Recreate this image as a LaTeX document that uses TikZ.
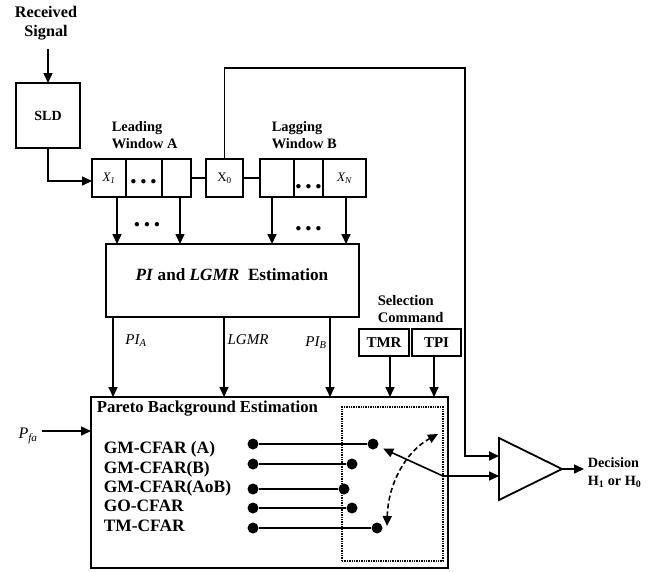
\documentclass[tikz,border=0pt]{standalone}
\usepackage{fontspec}
\setmainfont{Liberation Serif}
\usetikzlibrary{arrows.meta}
\tikzset{
  arr/.style={-{Triangle[length=10pt,width=9pt]}},
  blk/.style={draw, line width=1.8pt, inner sep=0pt, outer sep=0pt, rectangle},
  cell/.style={blk, line width=1.4pt, minimum height=38pt, font=\fontsize{13}{13}\selectfont\itshape},
  bl/.style={inner sep=0pt, font=\fontsize{14.4}{17}\selectfont\bfseries, align=left},
  it/.style={inner sep=0pt, font=\fontsize{15}{15}\selectfont\itshape},
  elips/.style={inner sep=0pt, anchor=base, font=\fontsize{27}{27}\selectfont\bfseries},
  sdot/.style={circle, fill=black, inner sep=0pt, minimum size=11pt},
}
\newcommand{\mydots}{.\kern3.2pt.\kern3.2pt.}
\begin{document}
\begin{tikzpicture}[x=1pt,y=-1pt,line width=1.6pt]
\useasboundingbox (0,0) rectangle (659,571);
% top input and SLD
\node[bl, align=center, font=\fontsize{16.2}{19.5}\selectfont\bfseries] (rx) at (46,23) {Received\\Signal};
\coordinate (rin) at (48,49);
\node[blk, minimum width=64pt, minimum height=65pt, font=\fontsize{14}{14}\selectfont\bfseries] (sld) at (48,115.5) {SLD};
\draw[arr] (rin) -- (sld.north);
% windows
\node[bl, anchor=west] (lwa) at (111,135.5) {Leading\\Window A};
\node[bl, anchor=west] (lwb) at (271,135.5) {Lagging\\Window B};
\node[cell, minimum width=34pt] (cA1) at (109,178) {\textit{X}\textsubscript{1}};
\node[cell, minimum width=36pt] (cA2) at (144,178) {};
\node[cell, minimum width=29pt] (cA3) at (176.5,178) {};
\node[cell, minimum width=37pt, font=\fontsize{13}{13}\selectfont] (X0) at (224.5,178) {X\textsubscript{0}};
\node[cell, minimum width=34pt] (cB1) at (277,178) {};
\node[cell, minimum width=29pt] (cB2) at (308.5,178) {};
\node[cell, minimum width=43pt] (cB3) at (344.5,178) {\textit{X}\textsubscript{\textit{N}}};
\node[elips] (eA) at (143.5,183.5) {\mydots};
\node[elips] (eB) at (308.5,188.5) {\mydots};
\coordinate (ain) at (92,181);
\draw[arr] (sld.south) |- (ain);
\draw (cA3.east) -- (X0.west);
\draw (X0.east) -- (cB1.west);
% estimation
\node[blk, line width=2.6pt, minimum width=253pt, minimum height=73pt] (est) at (232.5,280.5) {};
\node[inner sep=0pt, font=\fontsize{17.2}{17.2}\selectfont\bfseries] (estl) at (232,275) {\textit{PI} and \textit{LGMR}\ \ Estimation};
\draw[arr] ([xshift=8pt]cA1.south) -- ([xshift=8pt]cA1.south |- est.north);
\draw[arr] ([xshift=3.5pt]cA3.south) -- ([xshift=3.5pt]cA3.south |- est.north);
\draw[arr] ([xshift=-5pt]cB1.south) -- ([xshift=-5pt]cB1.south |- est.north);
\draw[arr] ([xshift=1.5pt]cB3.south) -- ([xshift=1.5pt]cB3.south |- est.north);
\node[elips] (eC) at (147,226.5) {\mydots};
\node[elips] (eD) at (308.5,230.5) {\mydots};
% selection command
\node[bl, anchor=west, font=\fontsize{14.6}{17}\selectfont\bfseries] (sel) at (377,308.5) {Selection\\Command};
\node[blk, minimum width=50pt, minimum height=27pt, font=\fontsize{15}{15}\selectfont\bfseries] (tmr) at (384,342.5) {TMR};
\node[blk, minimum width=49pt, minimum height=27pt, font=\fontsize{15}{15}\selectfont\bfseries] (tpi) at (436.5,342.5) {TPI};
% Pareto box
\node[blk, minimum width=357pt, minimum height=171pt] (par) at (269.5,482.5) {};
\node[inner sep=0pt, anchor=west, font=\fontsize{16.7}{16.7}\selectfont\bfseries] (part) at (96,409) {Pareto Background Estimation};
\draw[arr] ([xshift=-119.5pt]est.south) -- ([xshift=-119.5pt]est.south |- par.north);
\draw[arr] ([xshift=-8.5pt]est.south) -- ([xshift=-8.5pt]est.south |- par.north);
\draw[arr] ([xshift=97.5pt]est.south) -- ([xshift=97.5pt]est.south |- par.north);
\node[it] (pia) at (136,341) {PI\textsubscript{A}};
\node[it] (lg) at (248,340) {LGMR};
\node[it] (pib) at (316,343) {PI\textsubscript{B}};
\draw[arr] ([xshift=6pt]tmr.south) -- ([xshift=6pt]tmr.south |- par.north);
\draw[arr] ([xshift=-2.5pt]tpi.south) -- ([xshift=-2.5pt]tpi.south |- par.north);
% Pfa
\node[it, font=\fontsize{16}{16}\selectfont\itshape] (pfa) at (28,436) {P\textsubscript{fa}};
\coordinate (pfs) at (42,431);
\draw[arr] (pfs) -- (pfs -| par.west);
% algorithms
\node[inner sep=0pt, anchor=west, align=left, font=\fontsize{17.4}{19.3}\selectfont\bfseries] (alg) at (103,486.5)
  {GM-CFAR (A)\\GM-CFAR(B)\\GM-CFAR(AoB)\\GO-CFAR\\TM-CFAR};
\node[draw, densely dotted, line width=1.4pt, minimum width=101pt, minimum height=154pt, inner sep=0pt] (sw) at (392.5,484) {};
\node[sdot] (l1) at (253,444) {}; \node[sdot] (r1) at (373,444) {};
\node[sdot] (l2) at (253,464) {}; \node[sdot] (r2) at (352,464) {};
\node[sdot] (l3) at (253,489) {}; \node[sdot] (r3) at (344,489) {};
\node[sdot] (l4) at (253,508) {}; \node[sdot] (r4) at (352,508) {};
\node[sdot] (l5) at (253,528) {}; \node[sdot] (r5) at (377,528) {};
\foreach \i in {1,...,5} \draw[line width=1.5pt] (l\i) -- (r\i);
\coordinate (swp) at (443,476);
\draw[arr, shorten >=5pt] (swp) -- (r1);
\coordinate (dA) at (387,526);
\coordinate (dB) at (438,434);
\draw[dashed, dash pattern=on 5pt off 3pt, {Triangle[length=10pt,width=9pt]}-{Triangle[length=10pt,width=9pt]}] (dA) .. controls (388,485) and (405,452) .. (dB);
% comparator
\coordinate (t1) at (499,438);
\coordinate (t2) at (499,500);
\coordinate (t3) at (562,469);
\draw[line width=1.8pt, line join=miter] (t1) -- (t3) -- (t2) -- cycle;
\coordinate (cin1) at (499,456);
\coordinate (cin2) at (499,476);
\coordinate (tr) at (465,68);
\draw[arr, line width=1.8pt] (X0.north) |- (tr) |- (cin1);
\draw[arr] (swp) -- (cin2);
\coordinate (dout) at (584,469);
\draw[arr] (t3) -- (dout);
\node[bl, anchor=west, font=\fontsize{14.2}{18}\selectfont\bfseries] (dec) at (587,473) {Decision\\H\textsubscript{1} or H\textsubscript{0}};
\end{tikzpicture}
\end{document}
